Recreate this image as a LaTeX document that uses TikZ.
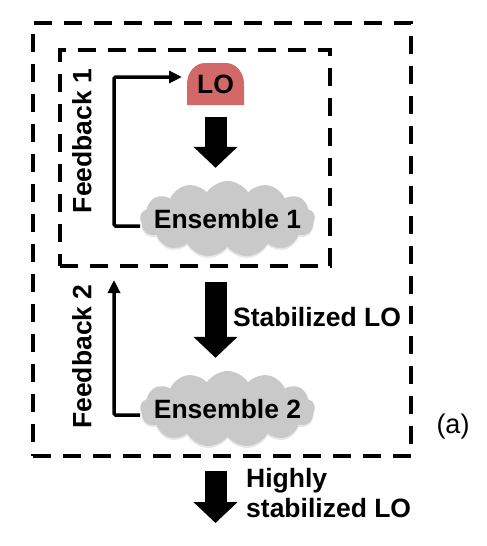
\documentclass[tikz,border=0pt]{standalone}
\usepackage{fontspec}
\setmainfont{Liberation Sans}
\usetikzlibrary{shapes.symbols,arrows.meta,backgrounds,shadows}
\definecolor{lored}{RGB}{210,104,104}
\definecolor{cloudgray}{RGB}{201,201,201}
\begin{document}
\begin{tikzpicture}[x=1pt,y=-1pt,
  lbl/.style={font=\fontsize{26.5}{30}\selectfont\bfseries,inner sep=0pt},
  dashbox/.style={draw,line width=4.5pt,dash pattern=on 18pt off 12pt,inner sep=0pt},
  ensemble/.style={cloud,cloud puffs=13,cloud puff arc=115,aspect=2.3,fill=cloudgray,
    minimum width=175pt,minimum height=76pt,inner sep=0pt,
    drop shadow={opacity=0.2,shadow xshift=0pt,shadow yshift=-2pt}},
  bigarrow/.style={line width=22pt,-{Triangle[width=43pt,length=21pt]}},
  fb/.style={line width=3.5pt,rounded corners=1.5pt,-{Triangle[width=12pt,length=13pt]}}]
\useasboundingbox (0,0) rectangle (487,546);
\node[dashbox,minimum width=378pt,minimum height=433pt] (outer) at (222,239.5) {};
\node[dashbox,minimum width=270pt,minimum height=216pt] (inner) at (195,158) {};
\node[lbl,minimum width=57pt,minimum height=42pt,outer sep=0pt] (lo) at (215.5,84) {LO};
\begin{scope}[on background layer]
\fill[lored] (lo.south west) -- ([yshift=-21pt]lo.north west)
  arc[start angle=180,end angle=90,x radius=18pt,y radius=21pt] -- ([xshift=-18pt]lo.north east)
  arc[start angle=90,end angle=0,x radius=18pt,y radius=21pt] -- (lo.south east) -- cycle;
\end{scope}
\node[ensemble,label={[lbl]center:Ensemble 1}] (ens1) at (227.5,219) {};
\node[ensemble,label={[lbl]center:Ensemble 2}] (ens2) at (227.5,409) {};
\coordinate (fbx) at (114,0);
\coordinate (fb2end) at (114,280);
\coordinate (outend) at (215.5,523);
\draw[bigarrow,shorten <=12pt,shorten >=13pt] (lo.south) -- (lo.south |- ens1.north);
\draw[bigarrow,shorten <=14pt,shorten >=13pt] (lo.south |- inner.south) -- (lo.south |- ens2.north);
\draw[bigarrow,shorten <=13pt] (lo.south |- outer.south) -- (outend);
\draw[fb] ([yshift=-7pt]ens1.west) -- ([yshift=-7pt]ens1.west -| fbx) |- ([shift={(-5pt,7pt)}]lo.west);
\draw[fb] ([yshift=-6pt]ens2.west) -| (fb2end);
\node[lbl,rotate=90] (fb1) at (82,141) {Feedback 1};
\node[lbl,rotate=90] (fb2) at (82,356.5) {Feedback 2};
\node[lbl,anchor=west] (stab) at (233,317) {Stabilized LO};
\node[lbl,anchor=west,align=left] (hstab) at (246,493) {Highly\\stabilized LO};
\node[font=\fontsize{27}{30}\selectfont,inner sep=0pt] (a) at (453,427) {(a)};
\end{tikzpicture}
\end{document}
